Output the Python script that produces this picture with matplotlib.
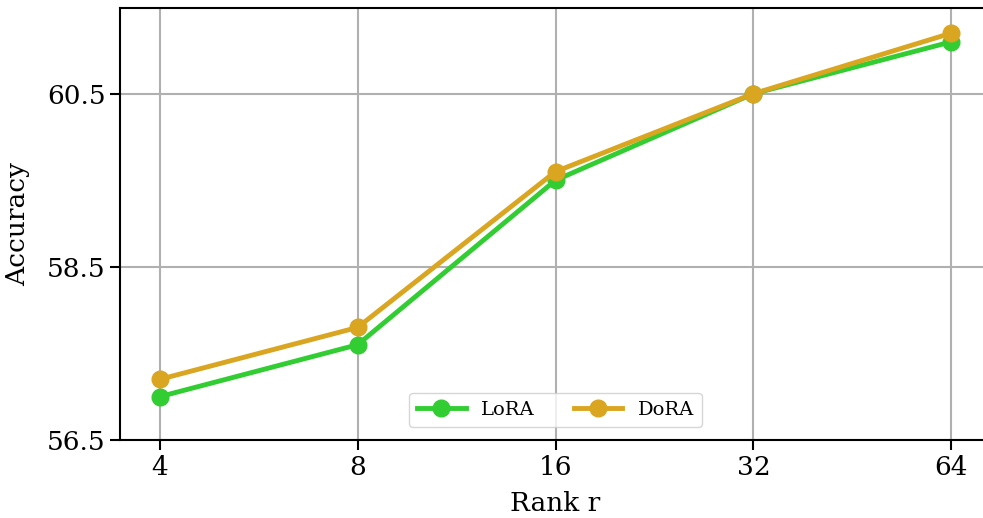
import numpy as np
import matplotlib
matplotlib.use("Agg")
import matplotlib.pyplot as plt

ranks = ["4", "8", "16", "32", "64"]
lora_acc = [57.0, 57.6, 59.5, 60.5, 61.1]
dora_acc = [57.2, 57.8, 59.6, 60.5, 61.2]
y_ticks = [56.5, 58.5, 60.5]

plt.rcParams["font.family"] = "DejaVu Serif"
plt.rcParams["font.size"] = 19

fig = plt.figure(figsize=(9.83, 5.18), dpi=100)
ax = fig.add_axes([120 / 983, 78 / 518, 871 / 983, 432 / 518])

x = np.arange(len(ranks))
ax.plot(x, lora_acc, "-o", color="limegreen", lw=3.5, ms=12, label="LoRA", zorder=3)
ax.plot(x, dora_acc, "-o", color="goldenrod", lw=3.5, ms=12, label="DoRA", zorder=3)

ax.set_xlim(-0.2, 4.2)
ax.set_ylim(56.5, 61.49)
ax.set_xticks(x)
ax.set_xticklabels(ranks)
ax.set_yticks(y_ticks)
ax.set_yticklabels([f"{t:.1f}" for t in y_ticks])
ax.grid(True, color="#b0b0b0", lw=1.5)
ax.set_axisbelow(True)
for s in ax.spines.values():
    s.set_linewidth(1.5)
ax.tick_params(width=1.5, length=7)

ax.set_xlabel("Rank r", labelpad=8)
ax.set_ylabel("Accuracy", labelpad=12)
ax.legend(loc="lower center", bbox_to_anchor=(0.5, 0.022), ncol=2, fontsize=14,
          borderaxespad=0.2, handlelength=2.5)

fig.savefig("out.png", dpi=100)
